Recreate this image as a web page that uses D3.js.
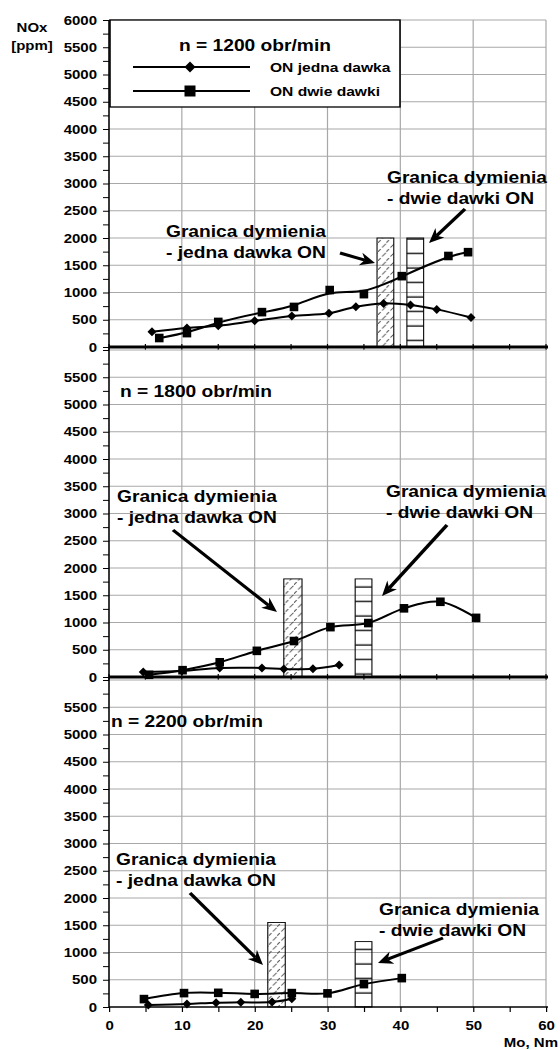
<!DOCTYPE html>
<html>
<head>
<meta charset="utf-8">
<title>NOx - granica dymienia</title>
<script src="https://d3js.org/d3.v7.min.js"></script>
<style>
  body { margin: 0; background: #fff; }
  svg text { font-family: "Liberation Sans", Arial, sans-serif; font-weight: bold; fill: #000; }
  .grid line { stroke: #a8a8a8; stroke-width: 1px; }
  .series { fill: none; stroke: #000; stroke-width: 2px; }
</style>
</head>
<body>
<script>
  // Data (Mo [Nm], NOx [ppm])
  const xTicks = [0, 10, 20, 30, 40, 50, 60];
  const speeds = ["n = 1200 obr/min", "n = 1800 obr/min", "n = 2200 obr/min"];
  const legendNames = ["ON jedna dawka", "ON dwie dawki"];

  // n = 1200
  const mo1200a = [5.9, 10.7, 15.0, 20.0, 25.1, 30.2, 33.9, 37.7, 41.4, 45.0, 49.7];
  const jedna1200 = [280, 350, 390, 480, 570, 620, 740, 800, 770, 690, 540];
  const mo1200b = [6.9, 10.7, 15.0, 21.0, 25.4, 30.3, 35.0, 40.2, 46.6, 49.3];
  const dwie1200 = [165, 255, 460, 640, 735, 1045, 970, 1300, 1670, 1740];

  // n = 1800
  const mo1800a = [4.7, 10.0, 15.2, 21.0, 24.0, 28.0, 31.6];
  const jedna1800 = [90, 110, 165, 165, 145, 150, 220];
  const mo1800b = [5.5, 10.1, 15.2, 20.3, 25.4, 30.4, 35.6, 40.5, 45.5, 50.4];
  const dwie1800 = [40, 125, 270, 480, 660, 915, 990, 1260, 1380, 1085];

  // n = 2200
  const mo2200a = [5.4, 10.7, 14.7, 18.1, 22.4, 25.1];
  const jedna2200 = [35, 55, 80, 85, 90, 150];
  const mo2200b = [4.8, 10.3, 15.0, 20.0, 25.1, 30.0, 35.0, 40.2];
  const dwie2200 = [145, 255, 260, 240, 255, 250, 420, 530];

  // smoke limit bars: [from Mo, to Mo, height]
  const limitJedna = [[36.8, 39.1, 2000], [24.0, 26.5, 1800], [21.8, 24.2, 1550]];
  const limitDwie = [[40.9, 43.2, 2000], [33.8, 36.1, 1800], [33.8, 36.1, 1200]];

  // the original picture is stretched horizontally, so draw in a narrower viewBox
  const S = 1.2;
  const W = 560, H = 1050;
  const sx = v => v / S;

  const svg = d3.select("body").append("svg")
      .attr("width", W)
      .attr("height", H)
      .attr("viewBox", `0 0 ${W / S} ${H}`)
      .attr("preserveAspectRatio", "none");

  const defs = svg.append("defs");
  const hatch = defs.append("pattern")
      .attr("id", "hatch").attr("patternUnits", "userSpaceOnUse")
      .attr("width", 7).attr("height", 9);
  hatch.append("path").attr("d", "M-1,10 L8,-1")
      .attr("stroke", "#555").attr("stroke-width", 0.9).attr("stroke-dasharray", "5,2");
  const stripes = defs.append("pattern")
      .attr("id", "stripes").attr("patternUnits", "userSpaceOnUse")
      .attr("width", 20).attr("height", 14.5);
  stripes.append("line").attr("x1", 0).attr("x2", 20).attr("y1", 7).attr("y2", 7)
      .attr("stroke", "#000").attr("stroke-width", 1.3);

  const x = d3.scaleLinear().domain([0, 60]).range([sx(109), sx(546)]);

  const panels = [
    { top: 20, bottom: 347, maxLabel: 6000, ja: mo1200a, jv: jedna1200, da: mo1200b, dv: dwie1200, axisW: 3, curveD: d3.curveBasis },
    { top: 350, bottom: 677, maxLabel: 5500, ja: mo1800a, jv: jedna1800, da: mo1800b, dv: dwie1800, axisW: 3, curveD: d3.curveCatmullRom },
    { top: 680, bottom: 1007, maxLabel: 5500, ja: mo2200a, jv: jedna2200, da: mo2200b, dv: dwie2200, axisW: 1.5, curveD: d3.curveCatmullRom }
  ];

  function diamond(cx, cy, r) {
    return `M${cx},${cy - r} L${cx + r / S},${cy} L${cx},${cy + r} L${cx - r / S},${cy} Z`;
  }

  panels.forEach((p, i) => {
    const y = d3.scaleLinear().domain([0, 6000]).range([p.bottom, p.top]);
    const g = svg.append("g");

    // grid
    const grid = g.append("g").attr("class", "grid");
    grid.selectAll(".h").data(d3.range(500, 6001, 500)).enter().append("line")
        .attr("x1", x(0)).attr("x2", x(60))
        .attr("y1", d => y(d)).attr("y2", d => y(d));
    grid.selectAll(".v").data(xTicks.slice(1)).enter().append("line")
        .attr("x1", d => x(d)).attr("x2", d => x(d))
        .attr("y1", y(0)).attr("y2", y(6000));

    // smoke limit bars
    const lj = limitJedna[i], ld = limitDwie[i];
    g.append("rect")
        .attr("x", x(lj[0])).attr("width", x(lj[1]) - x(lj[0]))
        .attr("y", y(lj[2])).attr("height", y(0) - y(lj[2]))
        .attr("fill", "url(#hatch)").attr("stroke", "#000").attr("stroke-width", 0.9);
    g.append("rect")
        .attr("x", x(ld[0])).attr("width", x(ld[1]) - x(ld[0]))
        .attr("y", y(ld[2])).attr("height", y(0) - y(ld[2]))
        .attr("fill", "url(#stripes)").attr("stroke", "#000").attr("stroke-width", 0.9);

    // series
    const jPts = p.ja.map((m, k) => [m, p.jv[k]]);
    const dPts = p.da.map((m, k) => [m, p.dv[k]]);
    g.append("path").attr("class", "series")
        .attr("d", d3.line().x(d => x(d[0])).y(d => y(d[1])).curve(d3.curveCatmullRom)(jPts));
    g.append("path").attr("class", "series")
        .attr("d", d3.line().x(d => x(d[0])).y(d => y(d[1])).curve(p.curveD)(dPts));
    g.selectAll(".dia").data(jPts).enter().append("path")
        .attr("d", d => diamond(x(d[0]), y(d[1]), 4.5)).attr("fill", "#000");
    g.selectAll(".sq").data(dPts).enter().append("rect")
        .attr("x", d => x(d[0]) - 4.3 / S).attr("width", 8.6 / S)
        .attr("y", d => y(d[1]) - 4.3).attr("height", 8.6)
        .attr("fill", "#000");

    // y axis ticks and labels
    const ay = g.append("g").attr("transform", `translate(${x(0)},0)`)
        .call(d3.axisLeft(y).tickValues(d3.range(0, 6001, 250)).tickSize(5).tickPadding(5)
          .tickFormat(d => (d % 500 === 0 && d <= p.maxLabel) ? d : ""));
    ay.select(".domain").remove();
    ay.selectAll("line").attr("stroke", "#000").attr("stroke-width", 1);
    ay.selectAll("text").attr("font-size", 12.5).attr("font-family", null);

    // x axis line
    g.append("line")
        .attr("x1", x(0)).attr("x2", x(60) + sx(2))
        .attr("y1", y(0)).attr("y2", y(0))
        .attr("stroke", "#000").attr("stroke-width", p.axisW);
    if (i < 2) {
      g.selectAll(".xt").data(d3.range(0, 61, 5)).enter().append("line")
          .attr("x1", d => x(d)).attr("x2", d => x(d))
          .attr("y1", y(0) - 3).attr("y2", y(0) + 3)
          .attr("stroke", "#000").attr("stroke-width", 1);
    } else {
      const ax = g.append("g").attr("transform", `translate(0,${y(0)})`)
          .call(d3.axisBottom(x).tickValues(d3.range(0, 61, 5)).tickSize(5).tickPadding(9)
            .tickFormat(d => d % 10 === 0 ? d : ""));
      ax.select(".domain").remove();
      ax.selectAll("line").attr("stroke", "#000").attr("stroke-width", 1);
      ax.selectAll("text").attr("font-size", 12.5).attr("font-family", null);
    }
  });

  // y axis line through all three panels
  svg.append("line")
      .attr("x1", x(0)).attr("x2", x(0)).attr("y1", 20).attr("y2", 1007)
      .attr("stroke", "#000").attr("stroke-width", 1.3);

  // axis titles
  svg.append("text").attr("x", sx(32)).attr("y", 32).attr("text-anchor", "middle")
      .attr("font-size", 12.5).text("NOx");
  svg.append("text").attr("x", sx(32)).attr("y", 50).attr("text-anchor", "middle")
      .attr("font-size", 12.5).text("[ppm]");
  svg.append("text").attr("x", sx(558)).attr("y", 1047).attr("text-anchor", "end")
      .attr("font-size", 12.5).text("Mo, Nm");

  // legend
  const lg = svg.append("g");
  lg.append("rect").attr("x", sx(110)).attr("y", 20)
      .attr("width", sx(400) - sx(110)).attr("height", 87)
      .attr("fill", "#fff").attr("stroke", "#000").attr("stroke-width", 1.3);
  lg.append("text").attr("x", sx(255)).attr("y", 51).attr("text-anchor", "middle")
      .attr("font-size", 16).text(speeds[0]);
  [67, 91].forEach((ly, k) => {
    lg.append("line").attr("x1", sx(133)).attr("x2", sx(250)).attr("y1", ly).attr("y2", ly)
        .attr("stroke", "#000").attr("stroke-width", 2);
    if (k === 0) {
      lg.append("path").attr("d", diamond(sx(190), ly, 5.5)).attr("fill", "#000");
    } else {
      lg.append("rect").attr("x", sx(190) - 5.5 / S).attr("width", 11 / S)
          .attr("y", ly - 5.5).attr("height", 11).attr("fill", "#000");
    }
    lg.append("text").attr("x", sx(270)).attr("y", ly + 5)
        .attr("font-size", 13).text(legendNames[k]);
  });

  svg.append("text").attr("x", sx(120)).attr("y", 397).attr("font-size", 16).text(speeds[1]);
  svg.append("text").attr("x", sx(111)).attr("y", 727).attr("font-size", 16).text(speeds[2]);

  // annotations
  const notes = [
    { x: 166, y: 237, lines: ["Granica dymienia", "- jedna dawka ON"], a: [340, 253, 375, 263] },
    { x: 387, y: 183, lines: ["Granica dymienia", "- dwie dawki ON"], a: [465, 209, 429, 243] },
    { x: 117, y: 502, lines: ["Granica dymienia", "- jedna dawka ON"], a: [173, 530, 277, 612] },
    { x: 386, y: 497, lines: ["Granica dymienia", "- dwie dawki ON"], a: [447, 525, 382, 596] },
    { x: 116, y: 865, lines: ["Granica dymienia", "- jedna dawka ON"], a: [190, 893, 263, 965] },
    { x: 379, y: 915, lines: ["Granica dymienia", "- dwie dawki ON"], a: [443, 938, 378, 963] }
  ];

  notes.forEach(n => {
    n.lines.forEach((t, k) => {
      svg.append("text").attr("x", sx(n.x)).attr("y", n.y + k * 21)
          .attr("font-size", 16).text(t);
    });
    const [x1, y1, x2, y2] = n.a;
    const dx = x2 - x1, dy = y2 - y1, L = Math.hypot(dx, dy);
    const ux = dx / L, uy = dy / L;
    const hl = 15, hw = 6.5;
    const bx = x2 - ux * hl, by = y2 - uy * hl;
    const nx = x2 - ux * hl * 0.7, ny = y2 - uy * hl * 0.7;
    svg.append("line")
        .attr("x1", sx(x1)).attr("y1", y1).attr("x2", sx(nx)).attr("y2", ny)
        .attr("stroke", "#000").attr("stroke-width", 3);
    svg.append("path")
        .attr("d", `M${sx(x2)},${y2} L${sx(bx - uy * hw)},${by + ux * hw} L${sx(nx)},${ny} L${sx(bx + uy * hw)},${by - ux * hw} Z`)
        .attr("fill", "#000");
  });
</script>
</body>
</html>
